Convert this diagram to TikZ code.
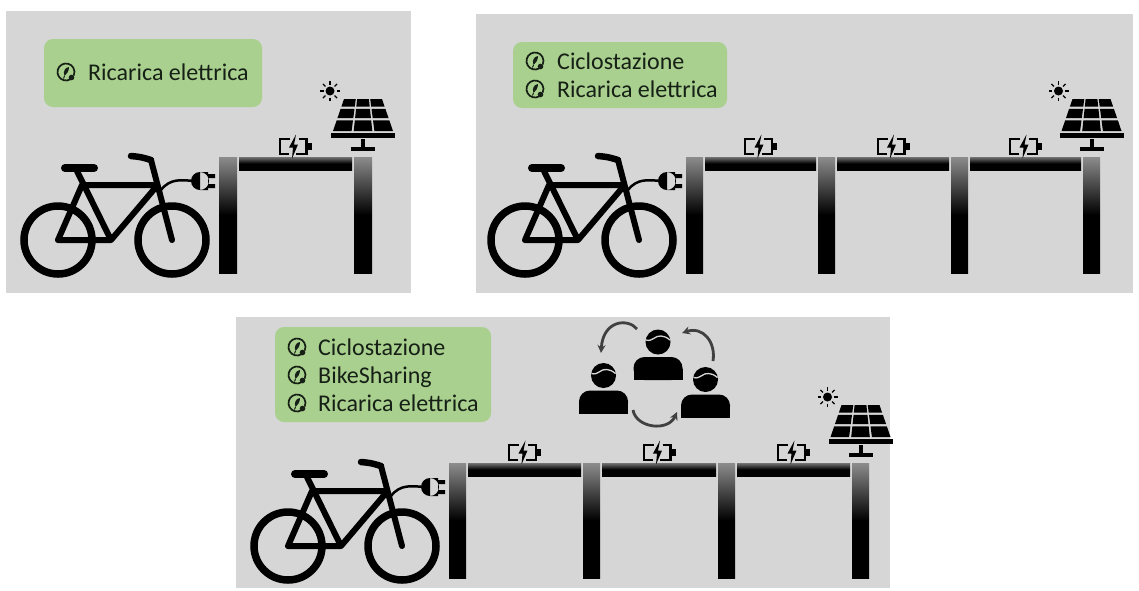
\documentclass[tikz,border=0pt]{standalone}
\usepackage{fontspec}
\setmainfont{Carlito}
\usepackage{tikz}
\usetikzlibrary{arrows.meta}
\usepackage{xcolor}

\definecolor{panelgray}{RGB}{214,214,214}
\definecolor{tagfill}{RGB}{169,208,142}
\definecolor{tagink}{RGB}{22,32,22}

\tikzset{
  panel/.style={fill=panelgray},
  tagbox/.style={fill=tagfill, rounded corners=9pt},
  tag/.style={anchor=base west, inner sep=0pt, text=tagink, font=\fontsize{24}{28}\selectfont},
  frame/.style={line width=6pt, line cap=round, line join=round},
  post/.style={top color=black!45, bottom color=black, middle color=black},
  beam/.style={top color=black!55, bottom color=black, middle color=black},
  cyclearrow/.style={line width=2.8pt, black!75, -{Stealth[length=8pt,width=8pt]}},
  % bici elettrica, origine = mozzo posteriore
  pics/ebike/.style={code={
    \draw[line width=7.5pt] (0,0) circle[radius=34] (114,0) circle[radius=34];
    \draw[frame] (0,0) -- (53,0) -- (98,-53) (0,0) -- (24,-55) -- (96,-55)
      (18,-71) -- (53,0) (93,-80) -- (114,0);
    \draw[line width=8pt, line cap=round] (7,-72) -- (36,-72);
    \draw[line width=6.5pt, line cap=round] (73,-84) .. controls (83,-83) .. (93,-80);
    \draw[line width=2.5pt] (103,-50) .. controls (112,-62) and (124,-60) .. (136,-59);
    \fill (142,-59) circle[radius=9] (142,-68) rectangle (150,-50);
    \fill (150,-66) rectangle (157,-62) (150,-56) rectangle (157,-52);
  }},
  % batteria con fulmine
  pics/battery/.style={code={
    \draw[line width=2.2pt] (-3.5,-7.4) -- (-13.4,-7.4) -- (-13.4,7.4) -- (-4.5,7.4);
    \draw[line width=2.2pt] (5.5,-7.4) -- (13.4,-7.4) -- (13.4,7.4) -- (3,7.4);
    \fill (14,-3.5) rectangle (18.5,3.5);
    \fill (3,-12) -- (-4,1) -- (0,1) -- (-1,12) -- (5,-2) -- (1,-2) -- cycle;
  }},
  % pannello solare e sole, origine = testa del palo
  pics/solar/.style={code={
    \fill (-12,-10) rectangle (12,-6);
    \fill (-2,-18) rectangle (2,-10);
    \fill (-32,-24) rectangle (32,-19);
    \foreach \ta/\tb in {0/0.24,0.31/0.6,0.67/1}
      \foreach \ua/\ub in {0/0.31,0.345/0.655,0.69/1}
        \fill ({-19-11*\ta+(38+22*\ta)*\ua},{-58+32*\ta})
          -- ({-19-11*\ta+(38+22*\ta)*\ub},{-58+32*\ta})
          -- ({-19-11*\tb+(38+22*\tb)*\ub},{-58+32*\tb})
          -- ({-19-11*\tb+(38+22*\tb)*\ua},{-58+32*\tb}) -- cycle;
    \fill (-33,-66) circle[radius=4.5];
    \foreach \a in {0,45,...,315}
      \draw[line width=1.2pt] (-33,-66) ++(\a:6.5) -- ++(\a:3.5);
  }},
  % icona foglia
  pics/leaf/.style={code={
    \draw[tagink, line width=1.7pt] (60:8.5) arc[start angle=60, end angle=385, radius=8.5];
    \fill[tagink] (-1.5,4) .. controls (-3.5,-1) and (-0.5,-4.5) .. (3,-5)
      .. controls (3,-1) and (1,2) .. (-1.5,4) -- cycle;
    \draw[tagink, line width=1pt] (-1.5,4) -- (-2.5,6.5);
    \fill[tagink] (5.5,5.5) circle[radius=2.8];
  }},
  % utente, origine = centro della testa
  pics/person/.style={code={
    \fill (0,0) circle[radius=12.5];
    \draw[panelgray, line width=1.3pt] (-12,-2) .. controls (-5,0) and (-3,-7) .. (3,-6)
      .. controls (8,-5) .. (12,-2);
    \fill[rounded corners=11pt] (-24.5,15) rectangle (24.5,38);
    \fill (-24.5,27) rectangle (24.5,38);
  }}
}

\begin{document}
\begin{tikzpicture}[x=1pt, y=-1pt]
\useasboundingbox (0,0) rectangle (1139,590);

% pannello 1
\fill[panel] (6,11) rectangle (411,293);
\fill[tagbox] (44,39) rectangle (262,107);
\pic at (66,72) {leaf};
\node[tag] (p1ric) at (88,80) {Ricarica elettrica};
\pic at (58,240) {ebike};
\foreach \x in {219,354} \fill[post] (\x,157) rectangle ++(18,116);
\fill[beam] (239,157) rectangle (352,170);
\pic at (293,146.5) {battery};
\pic at (363,157) {solar};

% pannello 2
\fill[panel] (476,14) rectangle (1133,293);
\fill[tagbox] (513,42) rectangle (727,108);
\pic at (535,61) {leaf};
\pic at (535,89) {leaf};
\node[tag] (p2cic) at (557,69) {Ciclostazione};
\node[tag] (p2ric) at (557,97) {Ricarica elettrica};
\pic at (525,240) {ebike};
\foreach \x in {686,818,951,1083} \fill[post] (\x,157) rectangle ++(17,116);
\foreach \a/\b in {705/816,837/949,970/1081} {
  \fill[beam] (\a,157) rectangle (\b,170);
  \pic at ({(\a+\b)/2-2},146.5) {battery};
}
\pic at (1091.5,157) {solar};

% pannello 3
\fill[panel] (236,317) rectangle (890,588);
\fill[tagbox] (275,327) rectangle (491,422);
\pic at (297,347) {leaf};
\pic at (297,375) {leaf};
\pic at (297,403) {leaf};
\node[tag] (p3cic) at (318,355) {Ciclostazione};
\node[tag] (p3bks) at (318,383) {BikeSharing};
\node[tag] (p3ric) at (318,411) {Ricarica elettrica};
\pic at (288,546) {ebike};
\foreach \x in {449,583,718,852} \fill[post] (\x,463) rectangle ++(17,115);
\foreach \a/\b in {468/581,602/716,737/850} {
  \fill[beam] (\a,463) rectangle (\b,476);
  \pic at ({(\a+\b)/2-2},452.5) {battery};
}
\pic at (860.5,463) {solar};

% condivisione tra utenti
\pic at (658,342) {person};
\pic at (603.5,375.5) {person};
\pic at (705.5,379.5) {person};
\coordinate (a1s) at (637,329);
\coordinate (a1e) at (601,353);
\coordinate (a2s) at (713,361);
\coordinate (a2e) at (682,333);
\coordinate (a3s) at (633,410);
\coordinate (a3e) at (677,412);
\draw[cyclearrow] (a1s) .. controls (628,318) and (603,320) .. (a1e);
\draw[cyclearrow] (a2s) .. controls (716,342) and (703,326) .. (a2e);
\draw[cyclearrow] (a3s) .. controls (636,428) and (668,432) .. (a3e);
\end{tikzpicture}
\end{document}
